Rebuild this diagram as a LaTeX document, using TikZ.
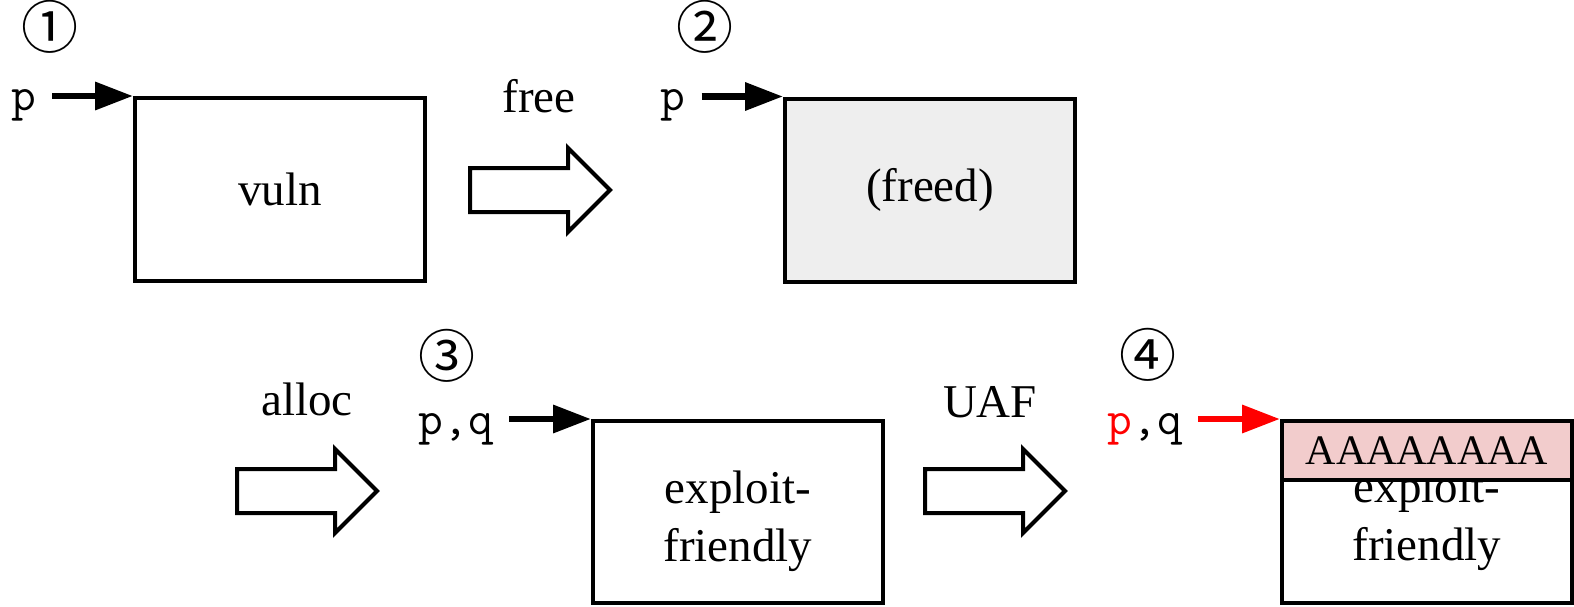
\documentclass[tikz,border=0pt]{standalone}
\usepackage{fontspec}
\setmainfont{Liberation Serif}
\newfontfamily\circfont{Noto Sans CJK JP}
\usetikzlibrary{arrows.meta}
\definecolor{freedgray}{HTML}{EEEEEE}
\definecolor{overwrite}{HTML}{F2CCCC}
\begin{document}
\begin{tikzpicture}[x=1pt,y=-1pt,
  chunk/.style={draw,line width=4pt,rectangle,minimum width=290pt,minimum height=183pt,inner sep=0pt,
    font=\fontsize{47}{58}\selectfont,align=center},
  chunktext/.style={font=\fontsize{47}{58}\selectfont,align=center,inner sep=0pt},
  ptrlabel/.style={font=\fontsize{48}{48}\selectfont\ttfamily,anchor=base,inner sep=0pt},
  ptr/.style={line width=6.5pt,-{Triangle[length=38pt,width=27pt]},shorten <=16pt},
  steplabel/.style={font=\fontsize{47}{47}\selectfont,anchor=base,inner sep=0pt},
  stepnum/.style={font=\fontsize{57}{57}\selectfont\circfont,inner sep=0pt},
  bigarrow/.pic={\draw[line width=4pt,fill=white] (0,-22) -- (98,-22) -- (98,-42) -- (140,0)
    -- (98,42) -- (98,22) -- (0,22) -- cycle;}]
\useasboundingbox (0,0) rectangle (1574,606);

% step 1: the vulnerable object
\node[stepnum] (n1) at (50,27) {①};
\node[chunk] (b1) at (280,189.5) {vuln};
\node[ptrlabel] (p1) at (23.5,110) {p};
\draw[ptr] (p1.east |- b1.north west) -- (b1.north west);

% free
\node[steplabel] (lfree) at (539,112) {free};
\pic at (470,190) {bigarrow};

% step 2: freed object
\node[stepnum] (n2) at (705,27) {②};
\node[chunk,fill=freedgray] (b2) at (930,190) {(freed)};
\node[ptrlabel] (p2) at (673,110) {p};
\draw[ptr] (p2.east |- b2.north west) -- (b2.north west);

% alloc
\node[steplabel] (lalloc) at (307,415) {alloc};
\pic at (237,491) {bigarrow};

% step 3: reallocated object
\node[stepnum] (n3) at (447,356) {③};
\node[chunk,minimum height=182pt] (b3) at (738,512) {};
\node[chunktext] (t3) at ([yshift=-9pt]b3.center) {exploit-\\friendly};
\node[ptrlabel] (p3) at (456,434) {p,q};
\draw[ptr] (p3.east |- b3.north west) -- (b3.north west);

% use after free
\node[steplabel] (luaf) at (990,417) {UAF};
\pic at (925,491) {bigarrow};

% step 4: overwritten through the stale pointer
\node[stepnum] (n4) at (1148,355) {④};
\node[chunk,minimum height=182pt] (b4) at (1427,512) {};
\node[chunktext] (t4) at ([yshift=-8pt]b4.center) {exploit-\\friendly};
\node[draw,line width=4pt,fill=overwrite,minimum width=290pt,minimum height=59pt,inner sep=0pt,
  anchor=north,font=\fontsize{42}{42}\selectfont] (ow) at (b4.north) {AAAAAAAA};
\node[ptrlabel] (p4) at (1145,434) {\textcolor{red}{p},q};
\draw[ptr,red] (p4.east |- b4.north west) -- (b4.north west);
\end{tikzpicture}
\end{document}
